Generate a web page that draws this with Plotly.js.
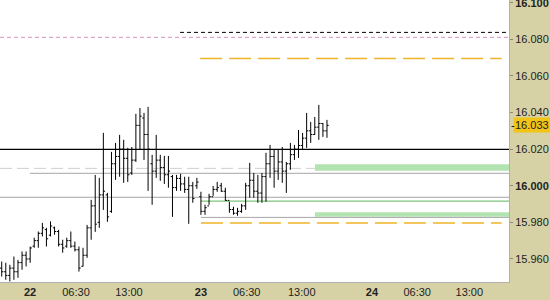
<!DOCTYPE html>
<html>
<head>
<meta charset="utf-8">
<script src="https://cdn.plot.ly/plotly-3.0.1.min.js"></script>
<style>html,body{margin:0;padding:0;background:#d6d2a6;}#chart{width:550px;height:300px;}</style>
</head>
<body>
<div id="chart"></div>
<script>
// OHLC bars, one per bar slot
const openP  = [15.955,15.953,15.951,15.955,15.953,15.958,15.962,15.960,15.967,15.970,
                15.974,15.976,15.973,15.977,15.975,15.968,15.967,15.970,15.967,15.965,
                15.956,15.962,15.977,15.989,15.980,15.995,15.995,15.986,16.012,16.016,
                16.020,16.015,16.007,16.014,16.033,16.037,16.028,16.012,16.008,16.014,
                16.010,16.006,16.005,15.999,16.004,16.001,15.998,16.000,16.000,15.994,
                15.986,15.989,15.994,15.998,16.000,15.997,15.992,15.987,15.985,15.986,
                15.989,16.000,16.003,15.997,15.996,16.005,16.012,16.016,16.008,16.013,
                16.008,16.012,16.017,16.020,16.022,16.026,16.030,16.028,16.032,16.034,16.030];
const highP  = [15.9586,15.9579,15.9568,15.9613,15.9595,15.9641,15.9641,15.9668,15.9716,15.9750,
                15.9797,15.9770,15.9805,15.9777,15.9759,15.9705,15.9716,15.9750,15.9695,15.9668,
                15.9661,15.9786,15.9923,16.0059,16.0043,16.0289,15.9961,16.0185,16.0234,16.0278,
                16.0251,16.0207,16.0212,16.0393,16.0425,16.0398,16.0431,16.0169,16.0278,16.0169,
                16.0163,16.0163,16.0059,16.0059,16.0065,16.0049,16.0049,16.0021,16.0043,15.9967,
                15.9896,15.9956,15.9999,16.0021,16.0016,15.9989,15.9912,15.9885,15.9879,15.9901,
                16.0016,16.0125,16.0070,16.0059,16.0070,16.0180,16.0223,16.0196,16.0196,16.0212,
                16.0130,16.0234,16.0223,16.0305,16.0289,16.0398,16.0349,16.0376,16.0442,16.0343,16.0360];
const lowP   = [15.9504,15.9486,15.9477,15.9486,15.9497,15.9541,15.9559,15.9579,15.9661,15.9661,
                15.9723,15.9668,15.9723,15.9732,15.9668,15.9634,15.9661,15.9661,15.9641,15.9531,
                15.9559,15.9606,15.9705,15.9748,15.9770,15.9868,15.9803,15.9852,16.0032,16.0049,
                16.0016,16.0021,16.0059,16.0130,16.0196,16.0141,15.9972,15.9896,16.0043,16.0027,
                16.0010,15.9989,15.9830,15.9972,15.9972,15.9961,15.9792,15.9907,15.9983,15.9841,
                15.9841,15.9896,15.9945,15.9967,15.9967,15.9918,15.9852,15.9841,15.9836,15.9852,
                15.9868,15.9934,15.9934,15.9907,15.9907,15.9912,16.0043,15.9989,16.0032,16.0016,
                15.9961,16.0087,16.0141,16.0152,16.0196,16.0207,16.0234,16.0278,16.0251,16.0267,16.0262];
const closeP = [15.953,15.951,15.955,15.953,15.958,15.962,15.960,15.966,15.970,15.974,
                15.977,15.971,15.978,15.975,15.968,15.966,15.970,15.967,15.965,15.955,
                15.962,15.977,15.989,15.979,15.995,15.997,15.983,16.012,16.016,16.020,
                16.015,16.006,16.014,16.033,16.038,16.028,16.020,16.008,16.014,16.010,
                16.006,16.008,15.999,16.004,16.001,15.998,16.000,15.993,16.002,15.986,
                15.988,15.994,15.998,15.999,15.997,15.992,15.987,15.985,15.986,15.989,
                16.000,16.003,15.997,15.996,16.005,16.012,16.016,16.008,16.013,16.008,
                16.012,16.017,16.020,16.022,16.026,16.030,16.028,16.032,16.034,16.030,16.033];

// x-axis tick labels (positions in bar slots)
const xTickPos   = [6.96, 18.27, 31.3, 49.0, 60.26, 73.8, 91.07, 102.2, 115.0];
const xTickText  = ['<b>22</b>','06:30','13:00','<b>23</b>','06:30','13:00','<b>24</b>','06:30','13:00'];
// y-axis ticks
const yTickVals  = [15.96, 15.98, 16.00, 16.02, 16.04, 16.06, 16.08, 16.10];
const yTickText  = ['15.960','15.980','<b>16.000</b>','16.020','16.040','16.060','16.080','<b>16.100</b>'];
const lastPrice  = 16.033;

// level lines: price levels
const levelPink      = 16.0811;
const levelBlackDash = 16.0838;
const levelOrangeHi  = 16.0696;
const levelBlack     = 16.0199;
const levelGreyDash  = 16.0095;
const levelGreyA     = 16.0068;
const levelGreyB     = 15.9937;
const levelGreen     = 15.9916;
const levelGreyC     = 15.9827;
const levelOrangeLo  = 15.9796;
const bandHi = [16.0082, 16.0117];
const bandLo = [15.9831, 15.9855];

const xs = openP.map((_, i) => i);
const XMIN = -0.42, XMAX = 124.77;

const trace = {
  type: 'ohlc', x: xs, open: openP, high: highP, low: lowP, close: closeP,
  increasing: {line: {color: '#000', width: 1}},
  decreasing: {line: {color: '#000', width: 1}},
  tickwidth: 0.42, hoverinfo: 'skip', showlegend: false
};

function hline(y, x0, x1, color, dash, width) {
  return {type: 'line', xref: 'x', yref: 'y', x0: x0, x1: x1, y0: y, y1: y,
          line: {color: color, width: width || 1, dash: dash || 'solid'}, layer: 'below'};
}
function band(y, x0, x1) {
  return {type: 'rect', xref: 'x', yref: 'y', x0: x0, x1: x1, y0: y[0], y1: y[1],
          fillcolor: '#b3e3b1', line: {width: 0}, layer: 'below'};
}

const shapes = [
  hline(levelPink, XMIN, XMAX, '#d68fc0', '4px,3px'),
  hline(levelBlackDash, 43.85, XMAX, '#000', '4px,3px'),
  hline(levelOrangeHi, 48.8, 122.97, '#f0b429', '22px,7px', 1.5),
  band(bandHi, 77.05, XMAX),
  band(bandLo, 77.05, XMAX),
  hline(levelGreyDash, XMIN, 77.05, '#cfcfcf', '12px,5px'),
  hline(levelGreyA, 6.96, XMAX, '#a6a6a6'),
  hline(levelGreyB, XMIN, XMAX, '#a6a6a6'),
  hline(levelGreen, 49.0, XMAX, '#5cb85c'),
  hline(levelGreyC, 49.0, XMAX, '#a6a6a6'),
  hline(levelOrangeLo, 49.0, 122.97, '#f0b429', '22px,7px', 1.5),
  hline(levelBlack, XMIN, XMAX, '#000', 'solid', 1.2)
];

const FONT = 'Liberation Sans, Arial, sans-serif';
const layout = {
  width: 550, height: 300,
  margin: {l: 0, r: 41, t: 0, b: 18, pad: 0},
  paper_bgcolor: '#d6d2a6', plot_bgcolor: '#ffffff',
  font: {family: FONT, size: 11, color: '#222'},
  showlegend: false,
  xaxis: {
    range: [XMIN, XMAX], rangeslider: {visible: false},
    tickmode: 'array', tickvals: xTickPos, ticktext: xTickText,
    ticks: '', showgrid: false, zeroline: false,
    showline: true, linecolor: '#b0b0b0', linewidth: 1,
    tickfont: {family: FONT, size: 11, color: '#222'}, fixedrange: true
  },
  yaxis: {
    side: 'right', range: [15.9474, 16.1015],
    tickmode: 'array', tickvals: yTickVals, ticktext: yTickText,
    ticks: 'outside', ticklen: 3, tickcolor: '#8a8a7a',
    ticklabeloverflow: 'allow',
    showgrid: false, zeroline: false,
    showline: true, linecolor: '#b0b0b0', linewidth: 1,
    tickfont: {family: FONT, size: 11, color: '#222'}, fixedrange: true
  },
  shapes: shapes,
  annotations: [{
    xref: 'paper', yref: 'y', x: 1, y: lastPrice, xanchor: 'left', yanchor: 'middle',
    xshift: 4, text: lastPrice.toFixed(3), showarrow: false,
    bgcolor: '#f2c417', borderpad: 1, font: {family: FONT, size: 11, color: '#222'}
  }, {
    xref: 'paper', yref: 'y', x: 1, y: lastPrice, xanchor: 'left', yanchor: 'middle',
    xshift: 0, text: '-', showarrow: false, font: {family: FONT, size: 11, color: '#000'}
  }]
};

Plotly.newPlot('chart', [trace], layout, {displayModeBar: false, staticPlot: true});
</script>
</body>
</html>
